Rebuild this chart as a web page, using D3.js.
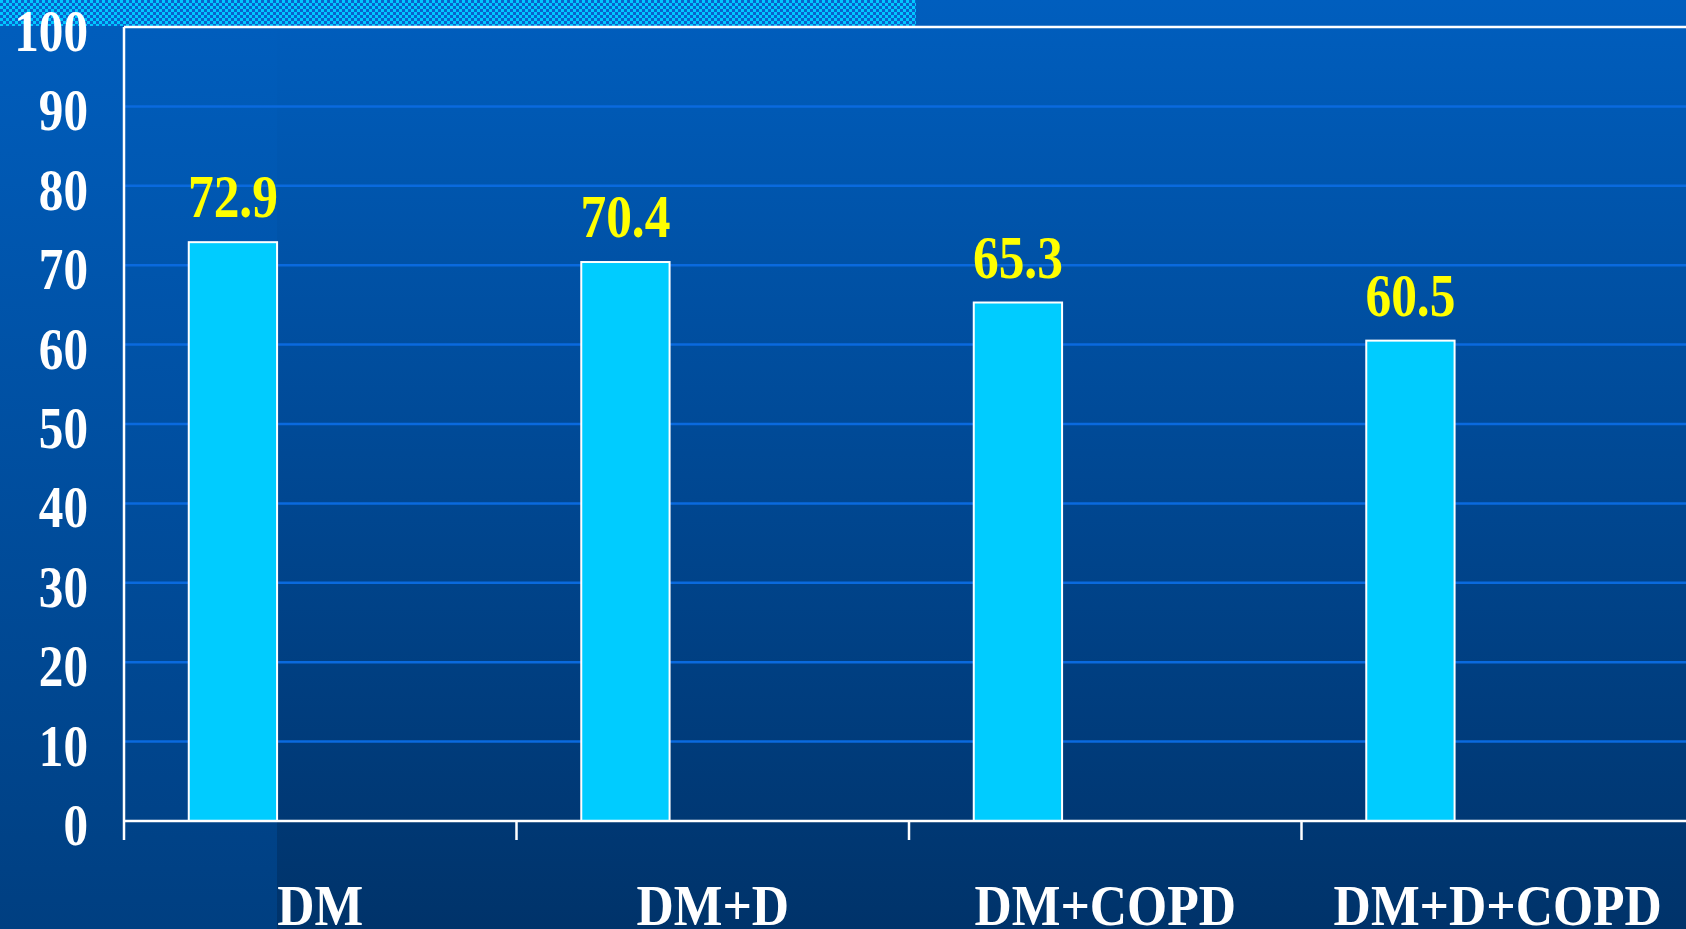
<!DOCTYPE html>
<html>
<head>
<meta charset="utf-8">
<script src="https://cdn.jsdelivr.net/npm/d3@7"></script>
<style>
  html, body { margin: 0; padding: 0; overflow: hidden; }
  svg { display: block; }
</style>
</head>
<body>
<div id="chart"></div>
<script>
// Chart data
var categories = ['DM', 'DM+D', 'DM+COPD', 'DM+D+COPD'];
var values = [72.9, 70.4, 65.3, 60.5];
var yTicks = [0, 10, 20, 30, 40, 50, 60, 70, 80, 90, 100];

var W = 1686, H = 929;
var font = '"Liberation Serif", "Times New Roman", serif';

var svg = d3.select('#chart')
            .append('svg')
            .attr('width', W)
            .attr('height', H);

var defs = svg.append('defs');

// Background gradients (main and left panel)
function vGrad(id, top, bottom) {
  var g = defs.append('linearGradient')
              .attr('id', id)
              .attr('gradientUnits', 'userSpaceOnUse')
              .attr('x1', 0).attr('y1', 0)
              .attr('x2', 0).attr('y2', H);
  g.append('stop').attr('offset', 0).attr('stop-color', top);
  g.append('stop').attr('offset', 1).attr('stop-color', bottom);
}
vGrad('bgMain', '#005ebe', '#00336a');
vGrad('bgLeft', '#005ebe', '#003f81');

// Checker pattern for the top strip
var pat = defs.append('pattern')
              .attr('id', 'checker')
              .attr('patternUnits', 'userSpaceOnUse')
              .attr('width', 6).attr('height', 6);
pat.append('rect').attr('width', 6).attr('height', 6).attr('fill', '#0a62cc');
pat.append('rect').attr('width', 3).attr('height', 3).attr('fill', '#00c8ff');
pat.append('rect').attr('x', 3).attr('y', 3).attr('width', 3).attr('height', 3)
   .attr('fill', '#00c8ff');

svg.append('rect').attr('width', W).attr('height', H).attr('fill', 'url(#bgMain)');
svg.append('rect').attr('width', 277).attr('height', H).attr('fill', 'url(#bgLeft)');
svg.append('rect').attr('width', 916).attr('height', 26).attr('fill', 'url(#checker)');

// Scales
var x = d3.scaleBand()
          .domain(categories)
          .range([124, 124 + 4 * 392.5])
          .padding(0);

var y = d3.scaleLinear()
          .domain([0, 100])
          .range([821, 27]);

var bw = x.bandwidth();

// Gridlines
svg.append('g')
   .selectAll('line')
   .data(yTicks.filter(function(d) { return d > 0 && d < 100; }))
   .enter().append('line')
   .attr('x1', 124).attr('x2', W)
   .attr('y1', function(d) { return y(d); })
   .attr('y2', function(d) { return y(d); })
   .attr('stroke', '#0a6ade')
   .attr('stroke-width', 2.5);

// Bars
svg.append('g')
   .selectAll('rect')
   .data(values)
   .enter().append('rect')
   .attr('x', function(d, i) { return x(categories[i]) + bw * 0.165; })
   .attr('width', bw * 0.225)
   .attr('y', function(d) { return y(d); })
   .attr('height', function(d) { return y(0) - y(d); })
   .attr('fill', '#00ccff')
   .attr('stroke', '#ffffff')
   .attr('stroke-width', 2);

// Axes frame
svg.append('line')
   .attr('x1', 124).attr('x2', W).attr('y1', y(100)).attr('y2', y(100))
   .attr('stroke', '#ffffff').attr('stroke-width', 2.5);
svg.append('line')
   .attr('x1', 124).attr('x2', 124).attr('y1', y(100)).attr('y2', 840)
   .attr('stroke', '#ffffff').attr('stroke-width', 2.5);

var xAxis = svg.append('g')
               .attr('transform', 'translate(0,' + y(0) + ')')
               .call(d3.axisBottom(x).tickSize(0).tickFormat(''));
xAxis.select('.domain').remove();
svg.append('line')
   .attr('x1', 124).attr('x2', W).attr('y1', y(0)).attr('y2', y(0))
   .attr('stroke', '#ffffff').attr('stroke-width', 2.5);
svg.append('g')
   .selectAll('line')
   .data(categories.slice(1))
   .enter().append('line')
   .attr('x1', function(d) { return x(d); })
   .attr('x2', function(d) { return x(d); })
   .attr('y1', y(0)).attr('y2', 840)
   .attr('stroke', '#ffffff').attr('stroke-width', 2.5);

// Y tick labels
svg.append('g')
   .selectAll('text')
   .data(yTicks)
   .enter().append('text')
   .attr('transform', function(d) {
     return 'translate(88,' + (y(d) + 24) + ') scale(0.82,1)';
   })
   .attr('text-anchor', 'end')
   .attr('font-family', font)
   .attr('font-weight', 'bold')
   .attr('font-size', 60)
   .attr('fill', '#ffffff')
   .text(function(d) { return d; });

// Value labels
svg.append('g')
   .selectAll('text')
   .data(values)
   .enter().append('text')
   .attr('transform', function(d, i) {
     var cx = x(categories[i]) + bw * 0.165 + bw * 0.1125;
     return 'translate(' + cx + ',' + (y(d) - 25) + ') scale(0.83,1)';
   })
   .attr('text-anchor', 'middle')
   .attr('font-family', font)
   .attr('font-weight', 'bold')
   .attr('font-size', 62)
   .attr('fill', '#ffff00')
   .text(function(d) { return d.toFixed(1); });

// Category labels
svg.append('g')
   .selectAll('text')
   .data(categories)
   .enter().append('text')
   .attr('transform', function(d) {
     return 'translate(' + (x(d) + bw / 2) + ',925) scale(0.89,1)';
   })
   .attr('text-anchor', 'middle')
   .attr('font-family', font)
   .attr('font-weight', 'bold')
   .attr('font-size', 58)
   .attr('fill', '#ffffff')
   .text(function(d) { return d; });
</script>
</body>
</html>
